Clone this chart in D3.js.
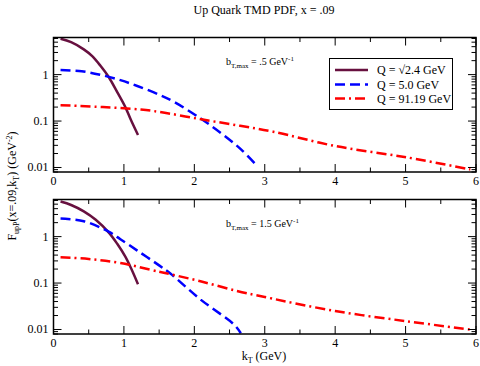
<!DOCTYPE html>
<html lang="en">
<head>
<meta charset="utf-8">
<title>Up Quark TMD PDF</title>
<script src="https://d3js.org/d3.v7.min.js"></script>
<style>
  body { margin: 0; background: #fff; }
  svg text { font-family: "Liberation Serif", "DejaVu Serif", serif; fill: #000; }
</style>
</head>
<body>
<div id="chart"></div>
<script>
  // series names and styles keyed by order
  var seriesNames = ["Q = \u221A2.4 GeV", "Q = 5.0 GeV", "Q = 91.19 GeV"];
  var xTicks = [0, 1, 2, 3, 4, 5, 6];
  var yTicks = [1, 0.1, 0.01];
  var yTickLabels = ["1", "0.1", "0.01"];
  var panelLabels = [".5", "1.5"];

  // bT,max = .5 panel
  var kTopQ1 = [0.1, 0.25, 0.43, 0.55, 0.667, 0.786, 0.905, 1.02, 1.1, 1.2];
  var fTopQ1 = [5.9, 5.0, 3.5, 2.5, 1.55, 0.88, 0.42, 0.2, 0.105, 0.05];
  var kTopQ2 = [0.1, 0.4, 0.667, 0.95, 1.19, 1.5, 1.71, 2.095, 2.4, 2.67, 2.9];
  var fTopQ2 = [1.26, 1.18, 0.99, 0.76, 0.57, 0.37, 0.26, 0.112, 0.052, 0.024, 0.0105];
  var kTopQ3 = [0.1, 0.7, 1.24, 1.5, 2.1, 2.65, 3.12, 4.0, 5.02, 5.92];
  var fTopQ3 = [0.22, 0.2, 0.177, 0.158, 0.109, 0.079, 0.059, 0.029, 0.0165, 0.0091];

  // bT,max = 1.5 panel
  var kBotQ1 = [0.1, 0.25, 0.43, 0.6, 0.786, 0.905, 1.02, 1.1, 1.2];
  var fBotQ1 = [5.7, 4.8, 3.5, 2.3, 1.22, 0.7, 0.37, 0.21, 0.094];
  var kBotQ2 = [0.1, 0.43, 0.79, 0.95, 1.19, 1.5, 1.66, 2.09, 2.57, 2.66];
  var fBotQ2 = [2.45, 2.15, 1.26, 0.88, 0.5, 0.24, 0.16, 0.044, 0.0125, 0.0083];
  var kBotQ3 = [0.1, 0.5, 0.95, 1.5, 1.66, 2.1, 2.6, 3.0, 4.0, 5.02, 5.92];
  var fBotQ3 = [0.36, 0.33, 0.27, 0.175, 0.155, 0.108, 0.068, 0.05, 0.025, 0.015, 0.010];

  var panels = [
    { label: panelLabels[0], k: [kTopQ1, kTopQ2, kTopQ3], f: [fTopQ1, fTopQ2, fTopQ3] },
    { label: panelLabels[1], k: [kBotQ1, kBotQ2, kBotQ3], f: [fBotQ1, fBotQ2, fBotQ3] }
  ];

  var colors = ["#67103f", "#0000ff", "#ff0000"];
  var dashes = [null, "10,5", "10,4,2,4"];

  var width = 480, height = 366;
  var left = 53.5, right = 476;
  var tops = [37.5, 199.5], ph = 134.5;

  var svg = d3.select("#chart").append("svg")
    .attr("width", width)
    .attr("height", height);

  var x = d3.scaleLinear().domain([0, 6]).range([left, right]);

  // title
  svg.append("text")
    .attr("x", 264).attr("y", 14)
    .attr("text-anchor", "middle")
    .style("font-size", "12px")
    .text("Up Quark TMD PDF, x = .09");

  panels.forEach(function (p, pi) {
    var top = tops[pi];
    var y = d3.scaleLog().domain([0.008, 6.3]).range([top + ph, top]);
    var g = svg.append("g");

    // curves
    var line = d3.line()
      .x(function (d) { return x(d[0]); })
      .y(function (d) { return y(d[1]); })
      .curve(d3.curveCatmullRom.alpha(0.5));

    p.k.forEach(function (ks, i) {
      var pts = ks.map(function (k, j) { return [k, p.f[i][j]]; });
      g.append("path")
        .datum(pts)
        .attr("d", line)
        .attr("fill", "none")
        .attr("stroke", colors[i])
        .attr("stroke-width", 2.5)
        .attr("stroke-dasharray", dashes[i]);
    });

    // x ticks (inward, top and bottom)
    var xMinor = d3.range(0.5, 6, 1);
    [top + ph, top].forEach(function (yy, s) {
      var dir = s === 0 ? -1 : 1;
      xTicks.forEach(function (t) {
        g.append("line")
          .attr("x1", x(t)).attr("x2", x(t))
          .attr("y1", yy).attr("y2", yy + dir * 8)
          .attr("stroke", "#000");
      });
      xMinor.forEach(function (t) {
        g.append("line")
          .attr("x1", x(t)).attr("x2", x(t))
          .attr("y1", yy).attr("y2", yy + dir * 4.5)
          .attr("stroke", "#000");
      });
    });

    // y ticks (inward, left and right)
    var yMinor = [];
    [0.001, 0.01, 0.1, 1].forEach(function (dec) {
      for (var m = 2; m <= 9; m++) {
        var v = dec * m;
        if (v >= 0.008 && v <= 6.3) yMinor.push(v);
      }
    });
    [left, right].forEach(function (xx, s) {
      var dir = s === 0 ? 1 : -1;
      yTicks.forEach(function (t) {
        g.append("line")
          .attr("x1", xx).attr("x2", xx + dir * 8)
          .attr("y1", y(t)).attr("y2", y(t))
          .attr("stroke", "#000");
      });
      yMinor.forEach(function (t) {
        g.append("line")
          .attr("x1", xx).attr("x2", xx + dir * 4.5)
          .attr("y1", y(t)).attr("y2", y(t))
          .attr("stroke", "#000");
      });
    });

    // y tick labels
    yTicks.forEach(function (t, i) {
      g.append("text")
        .attr("x", left - 5).attr("y", y(t) + 4)
        .attr("text-anchor", "end")
        .style("font-size", "12px")
        .text(yTickLabels[i]);
    });

    // x tick labels
    xTicks.forEach(function (t) {
      g.append("text")
        .attr("x", x(t)).attr("y", top + ph + 13)
        .attr("text-anchor", "middle")
        .style("font-size", "12px")
        .text(t);
    });

    // frame
    g.append("rect")
      .attr("x", left).attr("y", top)
      .attr("width", right - left).attr("height", ph)
      .attr("fill", "none")
      .attr("stroke", "#000")
      .attr("stroke-width", 1.5);

    // bT,max annotation
    var ann = g.append("text")
      .attr("x", 226).attr("y", top + 27)
      .style("font-size", "10px");
    ann.append("tspan").text("b");
    ann.append("tspan").attr("dy", 3).style("font-size", "7px").text("T,max");
    ann.append("tspan").attr("dy", -3).text(" = " + p.label + " GeV");
    ann.append("tspan").attr("dy", -4).style("font-size", "7px").text("-1");
  });

  // legend
  var lg = svg.append("g");
  lg.append("rect")
    .attr("x", 329.5).attr("y", 58.5)
    .attr("width", 123).attr("height", 51)
    .attr("fill", "#fff")
    .attr("stroke", "#000")
    .attr("stroke-width", 1);
  var rowY = [70, 84.5, 98.5];
  seriesNames.forEach(function (name, i) {
    lg.append("line")
      .attr("x1", 335).attr("x2", 368)
      .attr("y1", rowY[i]).attr("y2", rowY[i])
      .attr("stroke", colors[i])
      .attr("stroke-width", 2.5)
      .attr("stroke-dasharray", dashes[i]);
    lg.append("text")
      .attr("x", 377).attr("y", rowY[i] + 4)
      .style("font-size", "12px")
      .text(name);
  });

  // axis labels
  var xl = svg.append("text")
    .attr("x", 264).attr("y", 360)
    .attr("text-anchor", "middle")
    .style("font-size", "12px");
  xl.append("tspan").text("k");
  xl.append("tspan").attr("dy", 3).style("font-size", "8px").text("T");
  xl.append("tspan").attr("dy", -3).text(" (GeV)");

  var yl = svg.append("text")
    .attr("transform", "translate(16,186) rotate(-90)")
    .attr("text-anchor", "middle")
    .style("font-size", "12px");
  yl.append("tspan").text("F");
  yl.append("tspan").attr("dy", 3).style("font-size", "8px").text("upP");
  yl.append("tspan").attr("dy", -3).text("(x=.09,k");
  yl.append("tspan").attr("dy", 3).style("font-size", "8px").text("T");
  yl.append("tspan").attr("dy", -3).text(") (GeV");
  yl.append("tspan").attr("dy", -4).style("font-size", "8px").text("-2");
  yl.append("tspan").attr("dy", 4).text(")");
</script>
</body>
</html>
